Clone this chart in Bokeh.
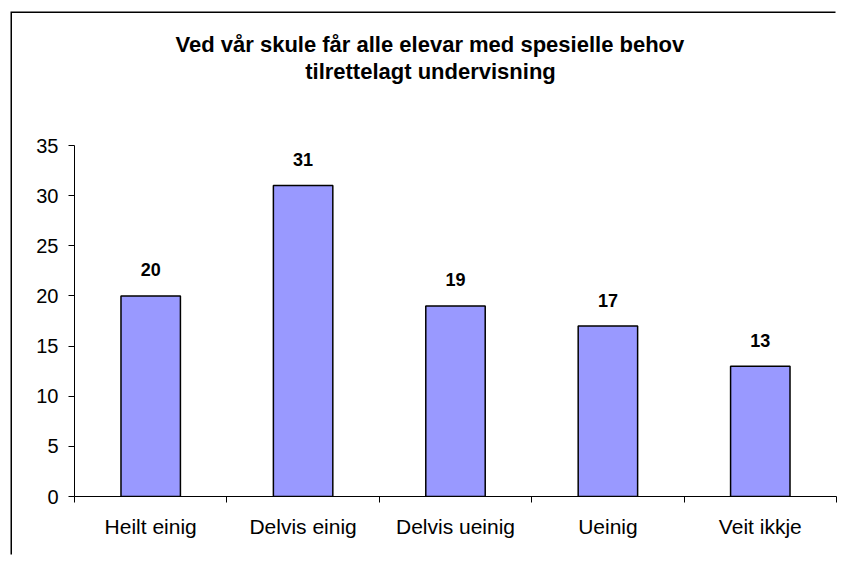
from bokeh.plotting import figure
from bokeh.models import Range1d, FixedTicker, ColumnDataSource, Title
from bokeh.core.properties import value
from bokeh.embed import file_html
from bokeh.resources import INLINE

title_lines = ["Ved vår skule får alle elevar med spesielle behov", "tilrettelagt undervisning"]
categories = ["Heilt einig", "Delvis einig", "Delvis ueinig", "Ueinig", "Veit ikkje"]
values = [20, 31, 19, 17, 13]
y_ticks = [0, 5, 10, 15, 20, 25, 30, 35]

xs = [i + 0.5 for i in range(len(categories))]
src = ColumnDataSource(dict(x=xs, top=values, label=[str(v) for v in values]))

OX, OY = 12, 13          # figure offset inside the page (room for the chart-area border)
W, H = 837 - OX, 556 - OY
ML, MR, MT, MB = 74 - OX, 1, 145 - OY, 60
p = figure(width=W, height=H, output_backend="svg", toolbar_location=None,
           x_range=Range1d(0, len(categories)), y_range=Range1d(0, 35),
           min_border_left=ML, min_border_right=MR, min_border_top=MT, min_border_bottom=MB,
           styles={"margin-left": f"{OX}px", "margin-top": f"{OY}px",
                   "box-shadow": "-1.5px -1.5px 0 0 #000"})
p.outline_line_color = None
p.grid.visible = False
p.background_fill_color = "white"
p.border_fill_color = "white"

# title: two centred lines (centre of the chart area, not of the plot frame)
TFS = 22
EM = [23.179, 11.391]    # Liberation Sans Bold advance widths (em) of the two lines
centre = 430 - 74
spacer = Title(text=" ", text_font_size=f"{TFS}px", standoff=35)
p.add_layout(spacer, "above")
for line, em in zip(reversed(title_lines), reversed(EM)):
    p.add_layout(Title(text=line, align="left", offset=centre - em * TFS / 2, standoff=0,
                       text_font="Liberation Sans", text_font_size=f"{TFS}px",
                       text_font_style="bold", text_color="black"), "above")

p.vbar(x="x", top="top", width=0.39, source=src, fill_color="#9999FF",
       line_color="black", line_width=1.5)
p.text(x="x", y="top", text="label", source=src, text_align="center", text_baseline="middle",
       y_offset=-26, text_font=value("Liberation Sans"), text_font_size="18px",
       text_font_style="bold", text_color="black")

yax = p.yaxis[0]
yax.ticker = FixedTicker(ticks=y_ticks)
yax.major_tick_out = 6
yax.major_tick_in = 0
yax.minor_tick_out = 0
yax.minor_tick_in = 0
yax.major_label_standoff = 10
yax.major_label_text_font = "Liberation Sans"
yax.major_label_text_font_size = "20px"
yax.major_label_text_color = "black"
yax.axis_line_color = "black"
yax.major_tick_line_color = "black"

xax = p.xaxis[0]
xax.ticker = FixedTicker(ticks=xs, minor_ticks=list(range(len(categories) + 1)))
xax.major_label_overrides = {x: c for x, c in zip(xs, categories)}
xax.major_tick_out = 0
xax.major_tick_in = 0
xax.minor_tick_out = 6
xax.minor_tick_in = 0
xax.minor_tick_line_color = "black"
xax.major_label_standoff = 12
xax.major_label_text_font = "Liberation Sans"
xax.major_label_text_font_size = "21px"
xax.major_label_text_color = "black"
xax.axis_line_color = "black"

open("out.html", "w").write(file_html(p, INLINE))
